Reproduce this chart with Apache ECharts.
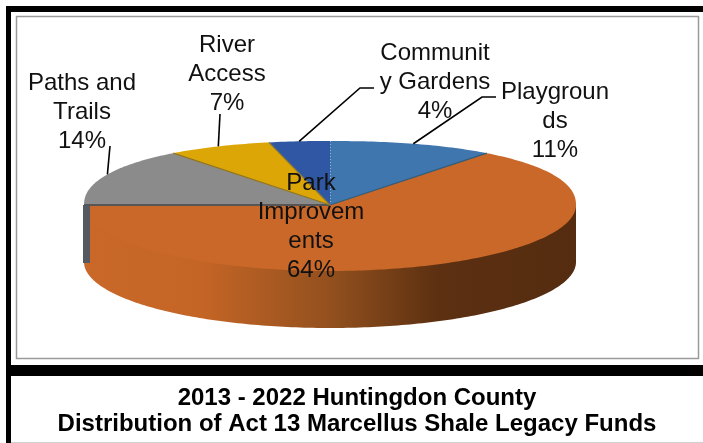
<!DOCTYPE html>
<html>
<head>
<meta charset="utf-8">
<style>html,body{margin:0;padding:0;background:#fff}#chart{width:703px;height:443px}</style>
<script src="https://cdn.jsdelivr.net/npm/echarts@6/dist/echarts.min.js"></script>
</head>
<body>
<div id="chart"></div>
<script>
// Fund shares, clockwise from twelve o'clock
const categories = ['Playgrounds', 'Park Improvements', 'Paths and Trails', 'River Access', 'Community Gardens'];
const shares = [11, 64, 14, 7, 4];
const labelLines = [
  ['Playgroun', 'ds'],
  ['Park', 'Improvem', 'ents'],
  ['Paths and', 'Trails'],
  ['River', 'Access'],
  ['Communit', 'y Gardens']
];
const sliceColors = ['#3f76ae', '#c96828', '#8b8b8b', '#dca606', '#2f57a3'];
const edgeColors = ['#d5e2ef', '#2f5a78', '#565656', '#8f7420', '#8f7a30'];
const titleLines = ['2013 - 2022 Huntingdon County', 'Distribution of Act 13 Marcellus Shale Legacy Funds'];

// Tilted disc: top face ellipse plus the height of the rim; the far edge is slightly squarer
const disc = { cx: 330, cy: 205, rx: 246, nearRy: 66, farRy: 64, depth: 57, farEdgePower: 2.2 };
// Where each label block is centred, and the elbow of its leader
const labelPlace = [
  { x: 555, y: 121, leader: [[482, 97], [496, 97]] },
  { x: 311, y: 227, leader: null },
  { x: 82, y: 112, leader: [[110, 146]] },
  { x: 227, y: 74, leader: [[220, 114]] },
  { x: 435, y: 82, leader: [[360, 88], [374, 88]] }
];

const total = shares.reduce((a, b) => a + b, 0);
const startAngles = shares.map((_, i) => shares.slice(0, i).reduce((a, b) => a + b, 0) / total * 360);
const rim = (deg, dy) => {
  const t = deg * Math.PI / 180;
  const s = Math.sin(t), c = Math.cos(t);
  const n = disc.farEdgePower;
  const h = c > 0 ? disc.farRy * Math.pow(1 - Math.pow(Math.abs(s), n), 1 / n) : disc.nearRy * c;
  return [disc.cx + disc.rx * s, disc.cy - h + (dy || 0)];
};
const arc = (from, to, dy) => {
  const pts = [];
  const n = Math.max(2, Math.ceil(Math.abs(to - from)));
  for (let k = 0; k <= n; k++) pts.push(rim(from + (to - from) * k / n, dy));
  return pts;
};

function renderSlice(params, api) {
  const i = params.dataIndex;
  const from = startAngles[i];
  const to = from + api.value(0) / total * 360;
  const children = [];
  if (i === 1) {
    // Visible rim of the large slice, shaded across its width; tucked under the top face
    children.push({
      type: 'polygon',
      shape: { points: arc(90, 270, -3).concat(arc(270, 90, disc.depth)) },
      style: {
        fill: new echarts.graphic.LinearGradient(disc.cx - disc.rx, 0, disc.cx + disc.rx, 0, [
          { offset: 0, color: '#c96828' },
          { offset: 0.24, color: '#c46526' },
          { offset: 0.5, color: '#93501e' },
          { offset: 0.72, color: '#5c3011' },
          { offset: 1, color: '#552c10' }
        ], true)
      }
    });
  }
  if (i === 2) {
    // Cut wall showing at the left end of the disc
    const [wx, wy] = rim(from);
    children.push({
      type: 'rect',
      shape: { x: wx - 1, y: wy, width: 7, height: disc.depth + 1 },
      style: { fill: '#555a60' }
    });
  }
  children.push({
    type: 'polygon',
    shape: { points: [[disc.cx, disc.cy]].concat(arc(from, to)) },
    style: { fill: api.visual('color') }
  });
  children.push({
    type: 'polyline',
    shape: { points: [[disc.cx, disc.cy], rim(from)] },
    style: { stroke: edgeColors[i], lineWidth: i === 2 ? 2 : 1.2, lineDash: i === 0 ? [1, 2] : null, fill: null }
  });
  return { type: 'group', children };
}

function renderLabel(params, api) {
  const i = params.dataIndex;
  const place = labelPlace[i];
  const children = [];
  if (place.leader) {
    const mid = startAngles[i] + api.value(0) / total * 180;
    children.push({
      type: 'polyline',
      shape: { points: [rim(mid)].concat(place.leader) },
      style: { stroke: '#000', lineWidth: 1.6, fill: null }
    });
  }
  children.push({
    type: 'text',
    style: {
      text: labelLines[i].concat(api.value(0) + '%').join('\n'),
      x: place.x, y: place.y,
      align: 'center', verticalAlign: 'middle',
      fill: '#111',
      font: '24px "Liberation Sans", Arial, sans-serif',
      lineHeight: 29
    }
  });
  return { type: 'group', children };
}

const seriesData = shares.map((v, i) => ({ name: categories[i], value: [v], itemStyle: { color: sliceColors[i] } }));

const chart = echarts.init(document.getElementById('chart'), null, { renderer: 'canvas' });
chart.setOption({
  animation: false,
  backgroundColor: '#fff',
  title: {
    text: titleLines.join('\n'),
    left: 352, top: 380, textAlign: 'center',
    textStyle: { fontFamily: '"Liberation Sans", Arial, sans-serif', fontWeight: 'bold', fontSize: 24, lineHeight: 26, color: '#000' }
  },
  graphic: [
    // Page frame: heavy black bars and the thin grey plot outline
    { type: 'rect', shape: { x: 6, y: 6, width: 697, height: 6 }, style: { fill: '#000' } },
    { type: 'rect', shape: { x: 6, y: 6, width: 5, height: 437 }, style: { fill: '#000' } },
    { type: 'rect', shape: { x: 6, y: 365, width: 697, height: 11 }, style: { fill: '#000' } },
    { type: 'rect', shape: { x: 16.5, y: 16.5, width: 682, height: 342 }, style: { fill: 'none', stroke: '#9a9a9a', lineWidth: 1.5 } },
    { type: 'rect', shape: { x: 11, y: 442, width: 692, height: 1 }, style: { fill: '#d0d0d0' } }
  ],
  series: [
    { type: 'custom', coordinateSystem: 'none', silent: true, z: 2, renderItem: renderSlice, data: seriesData },
    { type: 'custom', coordinateSystem: 'none', silent: true, z: 3, renderItem: renderLabel, data: seriesData }
  ]
});
</script>
</body>
</html>
